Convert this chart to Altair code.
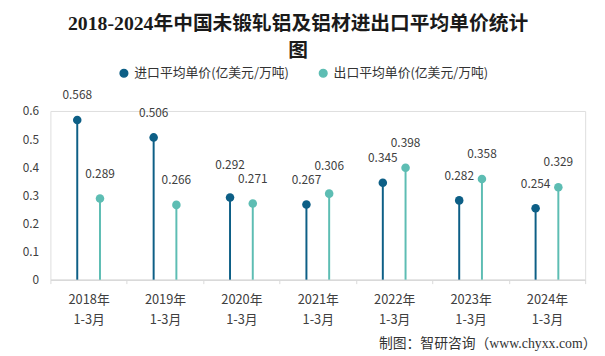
import altair as alt
import pandas as pd

years = ["2018年", "2019年", "2020年", "2021年", "2022年", "2023年", "2024年"]
period = "1-3月"
series_names = ["进口平均单价(亿美元/万吨)", "出口平均单价(亿美元/万吨)"]
import_values = [0.568, 0.506, 0.292, 0.267, 0.345, 0.282, 0.254]
export_values = [0.289, 0.266, 0.271, 0.306, 0.398, 0.358, 0.329]
y_ticks = [0, 0.1, 0.2, 0.3, 0.4, 0.5, 0.6]
colors = ["#0d5f86", "#5dbdb3"]

rows = []
for i, y in enumerate(years):
    cat = y + "\n" + period
    rows.append({"cat": cat, "series": series_names[0], "value": import_values[i]})
    rows.append({"cat": cat, "series": series_names[1], "value": export_values[i]})
df = pd.DataFrame(rows)
cats = [y + "\n" + period for y in years]

FONT = "Microsoft YaHei, Noto Sans CJK SC, sans-serif"

x = alt.X(
    "cat:N",
    sort=cats,
    scale=alt.Scale(paddingInner=0, paddingOuter=0),
    axis=alt.Axis(
        title="制图：智研咨询（www.chyxx.com）",
        titleFont="Liberation Serif, Noto Sans CJK SC",
        titleFontSize=14,
        titleFontWeight="normal",
        titleColor="#333333",
        titleAnchor="end",
        titleAlign="right",
        titleBaseline="middle",
        titleX=553,
        titleY=65,
        labelExpr="split(datum.label, '\\n')",
        labelAngle=0,
        labelFont=FONT,
        labelFontSize=13,
        labelColor="#404040",
        labelLineHeight=20,
        labelPadding=10,
        domainColor="#d9d9d9",
        domainWidth=1.5,
        tickBand="extent",
        tickColor="#d9d9d9",
        tickSize=4,
    ),
)
xoff = alt.XOffset(
    "series:N",
    sort=series_names,
    scale=alt.Scale(paddingOuter=0.68, paddingInner=0),
)
y_axis = alt.Axis(
    title=None,
    values=y_ticks,
    format="~g",
    grid=False,
    domain=False,
    ticks=False,
    labelFont=FONT,
    labelFontSize=12,
    labelColor="#404040",
    labelPadding=12,
)
y_scale = alt.Scale(domain=[0, 0.6])
y = alt.Y("value:Q", scale=y_scale, axis=y_axis)
color = alt.Color(
    "series:N",
    sort=series_names,
    scale=alt.Scale(domain=series_names, range=colors),
    legend=alt.Legend(
        title=None,
        orient="none",
        direction="horizontal",
        legendX=68,
        legendY=-45,
        symbolType="circle",
        symbolSize=60,
        labelFont=FONT,
        labelFontSize=13,
        labelColor="#333333",
        columnPadding=27,
        labelLimit=300,
    ),
)

base = alt.Chart(df)
rules = base.mark_rule(strokeWidth=2).encode(x=x, xOffset=xoff, y=y, y2=alt.datum(0), color=color)
points = base.mark_point(filled=True, size=75, opacity=1).encode(x=x, xOffset=xoff, y=y, color=color)
labels = (
    base.transform_joinaggregate(min_v="min(value)", groupby=["cat"])
    .transform_calculate(
        label_v="datum.value == datum.min_v ? datum.value : max(datum.value, datum.min_v + 0.05)"
    )
    .mark_text(dy=-25, font=FONT, fontSize=12, color="#404040")
    .encode(
        x=x,
        xOffset=xoff,
        y=alt.Y("label_v:Q", scale=y_scale, axis=y_axis),
        text=alt.Text("value:Q", format=".3f"),
    )
)

chart = (
    alt.layer(rules, points, labels)
    .properties(
        width=542,
        height=171,
        autosize=alt.AutoSizeParams(type="none"),
        padding={"left": 43, "top": 102, "right": 12, "bottom": 75},
        title=alt.TitleParams(
            text=["2018-2024年中国未锻轧铝及铝材进出口平均单价统计", "图"],
            font="Liberation Serif, Noto Sans CJK SC",
            fontSize=20,
            fontWeight="bold",
            color="#1a1a1a",
            anchor="middle",
            frame="group",
            dx=-20,
            offset=6,
            lineHeight=27,
        ),
    )
    .configure_view(stroke=None)
    .configure(background="white")
)

chart.save("out.html", embed_options={"renderer": "svg", "actions": False})
